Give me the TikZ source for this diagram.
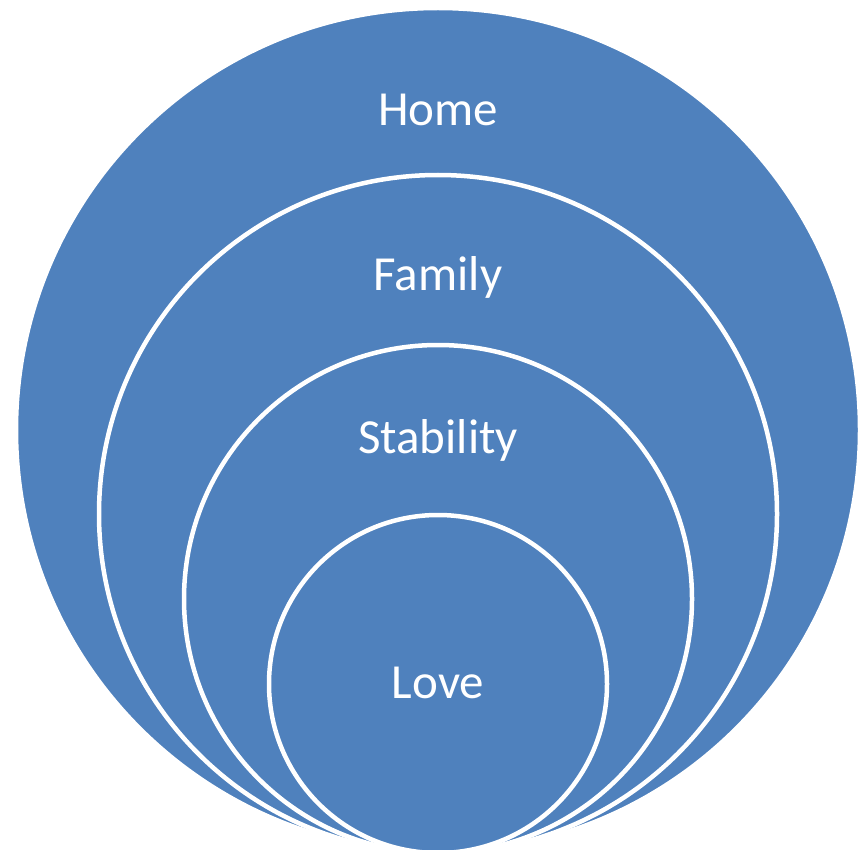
\documentclass[tikz,border=0pt]{standalone}
\usepackage{fontspec}
\setmainfont{Carlito}
\definecolor{ringblue}{HTML}{4F81BD}
\tikzset{
  ring/.style={circle, fill=ringblue, draw=white, line width=4.5pt, inner sep=0pt},
  ringlabel/.style={text=white, font=\fontsize{49}{49}\selectfont}
}
\begin{document}
\begin{tikzpicture}[x=1pt,y=-1pt]
  \useasboundingbox (0,0) rectangle (861,850);
  \draw
    (438,430) node[ring, minimum size=844pt] (home){}
    (438,514) node[ring, minimum size=678pt] (family){}
    (438,599) node[ring, minimum size=508pt] (stability){}
    (438,684) node[ring, minimum size=338pt] (love){};
  \draw
    (438,110) node[ringlabel] (homelabel){Home}
    (438,277) node[ringlabel] (familylabel){Family}
    (438,440) node[ringlabel] (stabilitylabel){Stability}
    (438,683) node[ringlabel] (lovelabel){Love};
\end{tikzpicture}
\end{document}
